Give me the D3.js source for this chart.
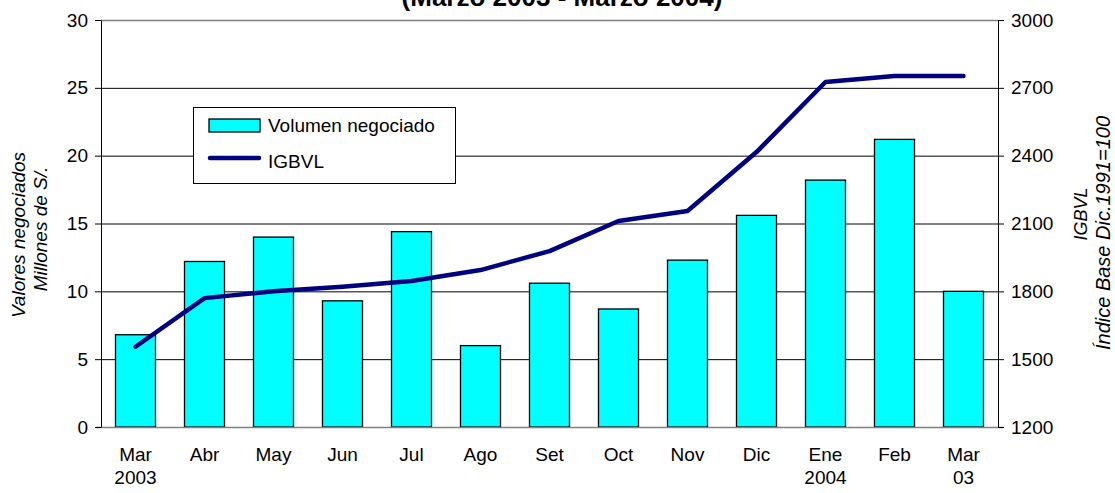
<!DOCTYPE html>
<html>
<head>
<meta charset="utf-8">
<script src="https://cdn.jsdelivr.net/npm/d3@7"></script>
<style>
  body { margin: 0; background: #fff; }
  svg { display: block; font-family: 'Liberation Sans', Arial, sans-serif; }
</style>
</head>
<body>
<div id="chart"></div>
<script>
// Month labels (two lines each)
const months = ["Mar", "Abr", "May", "Jun", "Jul", "Ago", "Set", "Oct", "Nov", "Dic", "Ene", "Feb", "Mar"];
const yearLabels = ["2003", "", "", "", "", "", "", "", "", "", "2004", "", "03"];
// Volumen negociado, millones de S/.
const volumen = [6.8, 12.2, 14.0, 9.3, 14.4, 6.0, 10.6, 8.7, 12.3, 15.6, 18.2, 21.2, 10.0];
// IGBVL index
const igbvl = [1555, 1770, 1800, 1820, 1846, 1894, 1978, 2111, 2155, 2416, 2726, 2752, 2752];
const leftTicks = [0, 5, 10, 15, 20, 25, 30];
const rightTicks = [1200, 1500, 1800, 2100, 2400, 2700, 3000];

const W = 1115, H = 493;
const FS = "19px";
const plot = { left: 101, right: 998, top: 20, bottom: 427 };

const svg = d3.select("#chart").append("svg")
    .attr("width", W)
    .attr("height", H);

const x = d3.scaleBand()
    .domain(d3.range(months.length))
    .range([plot.left, plot.right])
    .paddingInner(0.42)
    .paddingOuter(0.21);

const yL = d3.scaleLinear().domain([0, 30]).range([plot.bottom, plot.top]);
const yR = d3.scaleLinear().domain([1200, 3000]).range([plot.bottom, plot.top]);

// title, clipped at top like the original
svg.append("text")
    .attr("x", 562)
    .attr("y", 6)
    .attr("text-anchor", "middle")
    .style("font-size", "26px")
    .style("font-weight", "bold")
    .text("(Marzo 2003 - Marzo 2004)");

// gridlines
svg.append("g")
    .selectAll("line")
    .data(leftTicks.slice(1, -1))
    .join("line")
    .attr("x1", plot.left)
    .attr("x2", plot.right)
    .attr("y1", d => yL(d) + 0.5)
    .attr("y2", d => yL(d) + 0.5)
    .attr("stroke", "#000")
    .attr("stroke-width", 1);

// plot border top (gray)
svg.append("line")
    .attr("x1", plot.left).attr("x2", plot.right)
    .attr("y1", plot.top + 0.5).attr("y2", plot.top + 0.5)
    .attr("stroke", "#808080").attr("stroke-width", 1.5);

// bars
svg.append("g")
    .selectAll("rect")
    .data(volumen)
    .join("rect")
    .attr("x", (d, i) => x(i))
    .attr("y", d => yL(d))
    .attr("width", x.bandwidth())
    .attr("height", d => yL(0) - yL(d))
    .attr("fill", "#00ffff")
    .attr("stroke", "#000")
    .attr("stroke-width", 1.3);

// bottom axis line
svg.append("line")
    .attr("x1", plot.left - 5).attr("x2", plot.right + 5)
    .attr("y1", plot.bottom + 0.5).attr("y2", plot.bottom + 0.5)
    .attr("stroke", "#808080").attr("stroke-width", 1.5);

// left axis
const axL = svg.append("g")
    .attr("transform", `translate(${plot.left},0)`)
    .call(d3.axisLeft(yL).tickValues(leftTicks).tickSize(6).tickSizeOuter(0).tickPadding(7));
axL.select(".domain").attr("stroke", "#000");
axL.selectAll(".tick line").attr("stroke", "#000");
axL.selectAll(".tick text")
    .style("font-size", FS)
    .style("font-family", "'Liberation Sans', Arial, sans-serif")
    .attr("fill", "#000");

// right axis
const axR = svg.append("g")
    .attr("transform", `translate(${plot.right},0)`)
    .call(d3.axisRight(yR).tickValues(rightTicks).tickFormat(d3.format("d"))
        .tickSize(6).tickSizeOuter(0).tickPadding(7));
axR.select(".domain").attr("stroke", "#000");
axR.selectAll(".tick line").attr("stroke", "#000");
axR.selectAll(".tick text")
    .style("font-size", FS)
    .style("font-family", "'Liberation Sans', Arial, sans-serif")
    .attr("fill", "#000");

// category labels
const catG = svg.append("g").selectAll("g")
    .data(months)
    .join("g")
    .attr("transform", (d, i) => `translate(${x(i) + x.bandwidth() / 2},0)`);
catG.append("text")
    .attr("y", 461)
    .attr("text-anchor", "middle")
    .style("font-size", FS)
    .text(d => d);
catG.append("text")
    .attr("y", 484)
    .attr("text-anchor", "middle")
    .style("font-size", FS)
    .text((d, i) => yearLabels[i]);

// IGBVL line
const line = d3.line()
    .x((d, i) => x(i) + x.bandwidth() / 2)
    .y(d => yR(d));
svg.append("path")
    .datum(igbvl)
    .attr("d", line)
    .attr("fill", "none")
    .attr("stroke", "#000080")
    .attr("stroke-width", 4.5)
    .attr("stroke-linecap", "round")
    .attr("stroke-linejoin", "round");

// legend
const lg = svg.append("g");
lg.append("rect")
    .attr("x", 193.5).attr("y", 107.5)
    .attr("width", 262).attr("height", 76)
    .attr("fill", "#fff")
    .attr("stroke", "#000")
    .attr("stroke-width", 1);
lg.append("rect")
    .attr("x", 209).attr("y", 119)
    .attr("width", 51).attr("height", 13)
    .attr("fill", "#00ffff")
    .attr("stroke", "#000")
    .attr("stroke-width", 1.3);
lg.append("text")
    .attr("x", 268).attr("y", 132)
    .style("font-size", FS)
    .text("Volumen negociado");
lg.append("line")
    .attr("x1", 210).attr("x2", 259)
    .attr("y1", 158).attr("y2", 158)
    .attr("stroke", "#000080")
    .attr("stroke-width", 4.5)
    .attr("stroke-linecap", "round");
lg.append("text")
    .attr("x", 268).attr("y", 168)
    .style("font-size", FS)
    .text("IGBVL");

// axis titles
function vText(cx, cy, txt, size) {
    svg.append("text")
        .attr("transform", `translate(${cx},${cy}) rotate(-90)`)
        .attr("text-anchor", "middle")
        .style("font-size", size)
        .style("font-style", "italic")
        .text(txt);
}
vText(25, 235, "Valores negociados", FS);
vText(47, 229, "Millones de S/.", FS);
vText(1087, 214, "IGBVL", "18px");
vText(1110, 233, "Índice Base Dic.1991=100", "20px");
</script>
</body>
</html>
